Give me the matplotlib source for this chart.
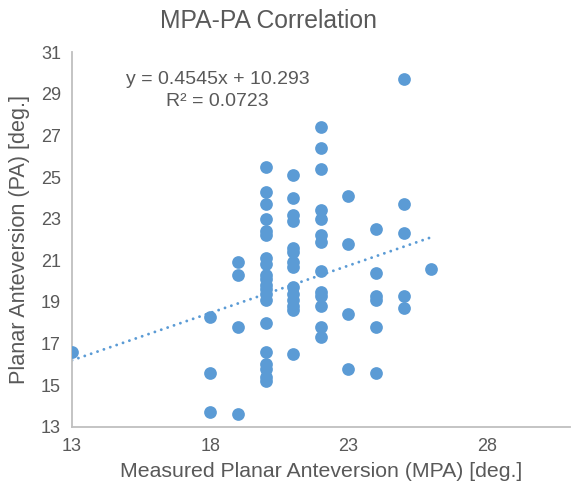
import matplotlib
matplotlib.use("Agg")
import matplotlib.pyplot as plt
import numpy as np

plt.rcParams['font.family'] = ['Liberation Sans', 'DejaVu Sans']

# MPA values (x) per column and their PA values (y)
mpa_13 = [16.6]
mpa_18 = [18.3, 15.6, 13.7]
mpa_19 = [20.9, 20.3, 17.8, 13.6]
mpa_20 = [25.5, 24.3, 23.7, 23.0, 22.4, 22.2, 21.1, 20.8, 20.3, 20.1,
          19.8, 19.6, 19.4, 19.1, 18.0, 16.6, 16.0, 15.8, 15.4, 15.2]
mpa_21 = [25.1, 24.0, 23.2, 22.9, 21.6, 21.4, 20.9, 20.7, 19.7, 19.4,
          19.1, 18.8, 18.6, 16.5]
mpa_22 = [27.4, 26.4, 25.4, 23.4, 23.0, 22.2, 21.9, 20.5, 19.5, 19.3,
          18.8, 17.8, 17.3]
mpa_23 = [24.1, 21.8, 18.4, 15.8]
mpa_24 = [22.5, 20.4, 19.3, 19.1, 17.8, 15.6]
mpa_25 = [29.7, 23.7, 22.3, 19.3, 18.7]
mpa_26 = [20.6]

columns = {13: mpa_13, 18: mpa_18, 19: mpa_19, 20: mpa_20, 21: mpa_21,
           22: mpa_22, 23: mpa_23, 24: mpa_24, 25: mpa_25, 26: mpa_26}

slope = 0.4545
intercept = 10.293
r_squared = 0.0723

x_ticks = [13, 18, 23, 28]
y_ticks = [13, 15, 17, 19, 21, 23, 25, 27, 29, 31]

xs = np.concatenate([[k] * len(v) for k, v in columns.items()]).astype(float)
ys = np.concatenate([v for v in columns.values()])

blue = '#5B9BD5'
gray_text = '#595959'
spine_col = '#BFBFBF'

fig = plt.figure(figsize=(5.72, 4.93), dpi=100)
ax = fig.add_axes([0.1259, 0.1339, 0.870, 0.7606])

ax.scatter(xs, ys, s=84, color=blue, zorder=3, linewidths=0)

xl = np.linspace(xs.min(), xs.max(), 50)
ax.plot(xl, slope * xl + intercept, linestyle=(0, (0.01, 2.3)), color=blue,
        linewidth=2.1, dash_capstyle='round', zorder=2)

ax.set_xlim(13, 31)
ax.set_ylim(13, 31)
ax.set_xticks(x_ticks)
ax.set_yticks(y_ticks)
ax.tick_params(length=0, labelsize=13, colors=gray_text)
ax.tick_params(axis='y', pad=8)
ax.tick_params(axis='x', pad=8)

for s in ['top', 'right']:
    ax.spines[s].set_visible(False)
for s in ['left', 'bottom']:
    ax.spines[s].set_color(spine_col)
    ax.spines[s].set_linewidth(1.3)

ax.set_xlabel('Measured Planar Anteversion (MPA) [deg.]', fontsize=15.3,
              color=gray_text, labelpad=5)
ax.set_ylabel('Planar Anteversion (PA) [deg.]', fontsize=15.6,
              color=gray_text, labelpad=8)
fig.text(269 / 572, 1 - 21.5 / 493, 'MPA-PA Correlation', ha='center', va='center',
         fontsize=17.8, color=gray_text)

ax.text(218 / 572, 1 - 79 / 493, f'y = {slope}x + {intercept}',
        transform=fig.transFigure, ha='center', va='center',
        fontsize=14, color=gray_text)
ax.text(217 / 572, 1 - 101.5 / 493, f'R² = {r_squared}',
        transform=fig.transFigure, ha='center', va='center',
        fontsize=14, color=gray_text)

fig.savefig('out.png', dpi=100)
